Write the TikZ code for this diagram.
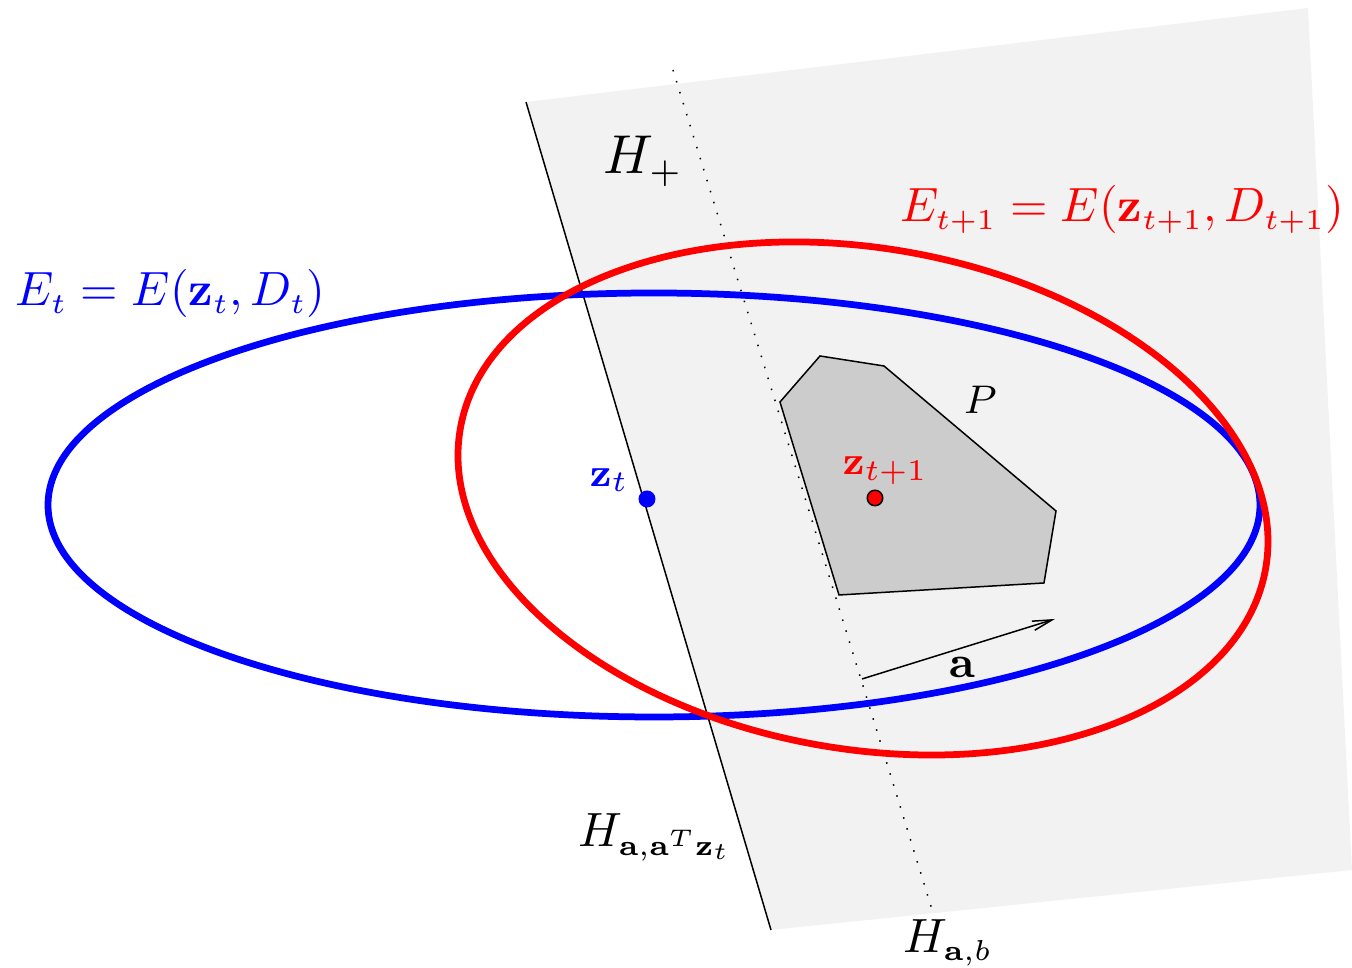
\documentclass[tikz,border=0pt]{standalone}
\usetikzlibrary{arrows.meta}
\DeclareMathSizes{10}{10}{5.6}{4.5}
\definecolor{bggray}{HTML}{F2F2F2}
\definecolor{polygray}{HTML}{CCCCCC}
\begin{document}
\begin{tikzpicture}[x=0.2pt,y=-0.2pt,
  lbl/.style={inner sep=0pt, anchor=base west, font=\fontsize{10}{12}\selectfont},
  big lbl/.style={lbl, scale=0.962, transform shape},
  small lbl/.style={lbl, font=\fontsize{8}{10}\selectfont},
  thinline/.style={line width=0.3pt},
  ell/.style={line width=1.35pt}]
\useasboundingbox (0,0) rectangle (1352,968);
\begin{scope}
\clip (0,0) rectangle (1352,968);
\fill[bggray] (526,102) -- (1308,8) -- (1352,870) -- (771,930) -- cycle;
\end{scope}
\coordinate (h1) at (526,102);
\coordinate (h2) at (771,930);
\draw[thinline] (h1) -- (h2);
\coordinate (b1) at (673,70);
\coordinate (b2) at (934,916);
\draw[thinline, dotted] (b1) -- (b2);
\filldraw[fill=polygray, thinline] (780,402) -- (820,356) -- (884,366) -- (1056,511) -- (1044,583) -- (839,595) -- cycle;
\draw[blue, ell] (654,505) ellipse [x radius=121.2pt, y radius=42.4pt];
\draw[red, ell, shift={(863,498.5)}, rotate=-9.82] (0,0) ellipse [x radius=81.74pt, y radius=50.1pt];
\node[circle, fill=blue, inner sep=0pt, minimum size=3.4pt] (zt) at (647,499) {};
\node[circle, fill=red, draw=black, thinline, inner sep=0pt, minimum size=3.1pt] (zt1) at (875,498) {};
\coordinate (a0) at (862,679);
\coordinate (a1) at (1055,619);
\draw[thinline, -{Straight Barb[length=3.9pt,width=1.9pt]}] (a0) -- (a1);
\node[big lbl, blue] (Et) at (15,306) {$E_t = E(\mathbf{z}_t, D_t)$};
\node[big lbl, red, anchor=base east] (Et1) at (1345,222) {$E_{t+1} = E(\mathbf{z}_{t+1}, D_{t+1})$};
\node[lbl, font=\fontsize{10.5}{12}\selectfont] (Hp) at (603,174) {$H_+$};
\node[big lbl] (Hz) at (578,847) {$H_{\mathbf{a},\mathbf{a}^T\mathbf{z}_t}$};
\node[big lbl] (Hb) at (903,953) {$H_{\mathbf{a},b}$};
\node[small lbl] (P) at (963,414) {$P$};
\node[small lbl, red] (zl1) at (842,475) {$\mathbf{z}_{t+1}$};
\node[small lbl, blue] (zl) at (589,487) {$\mathbf{z}_t$};
\node[lbl, font=\fontsize{9}{11}\selectfont] (al) at (948,678) {$\mathbf{a}$};
\end{tikzpicture}
\end{document}
